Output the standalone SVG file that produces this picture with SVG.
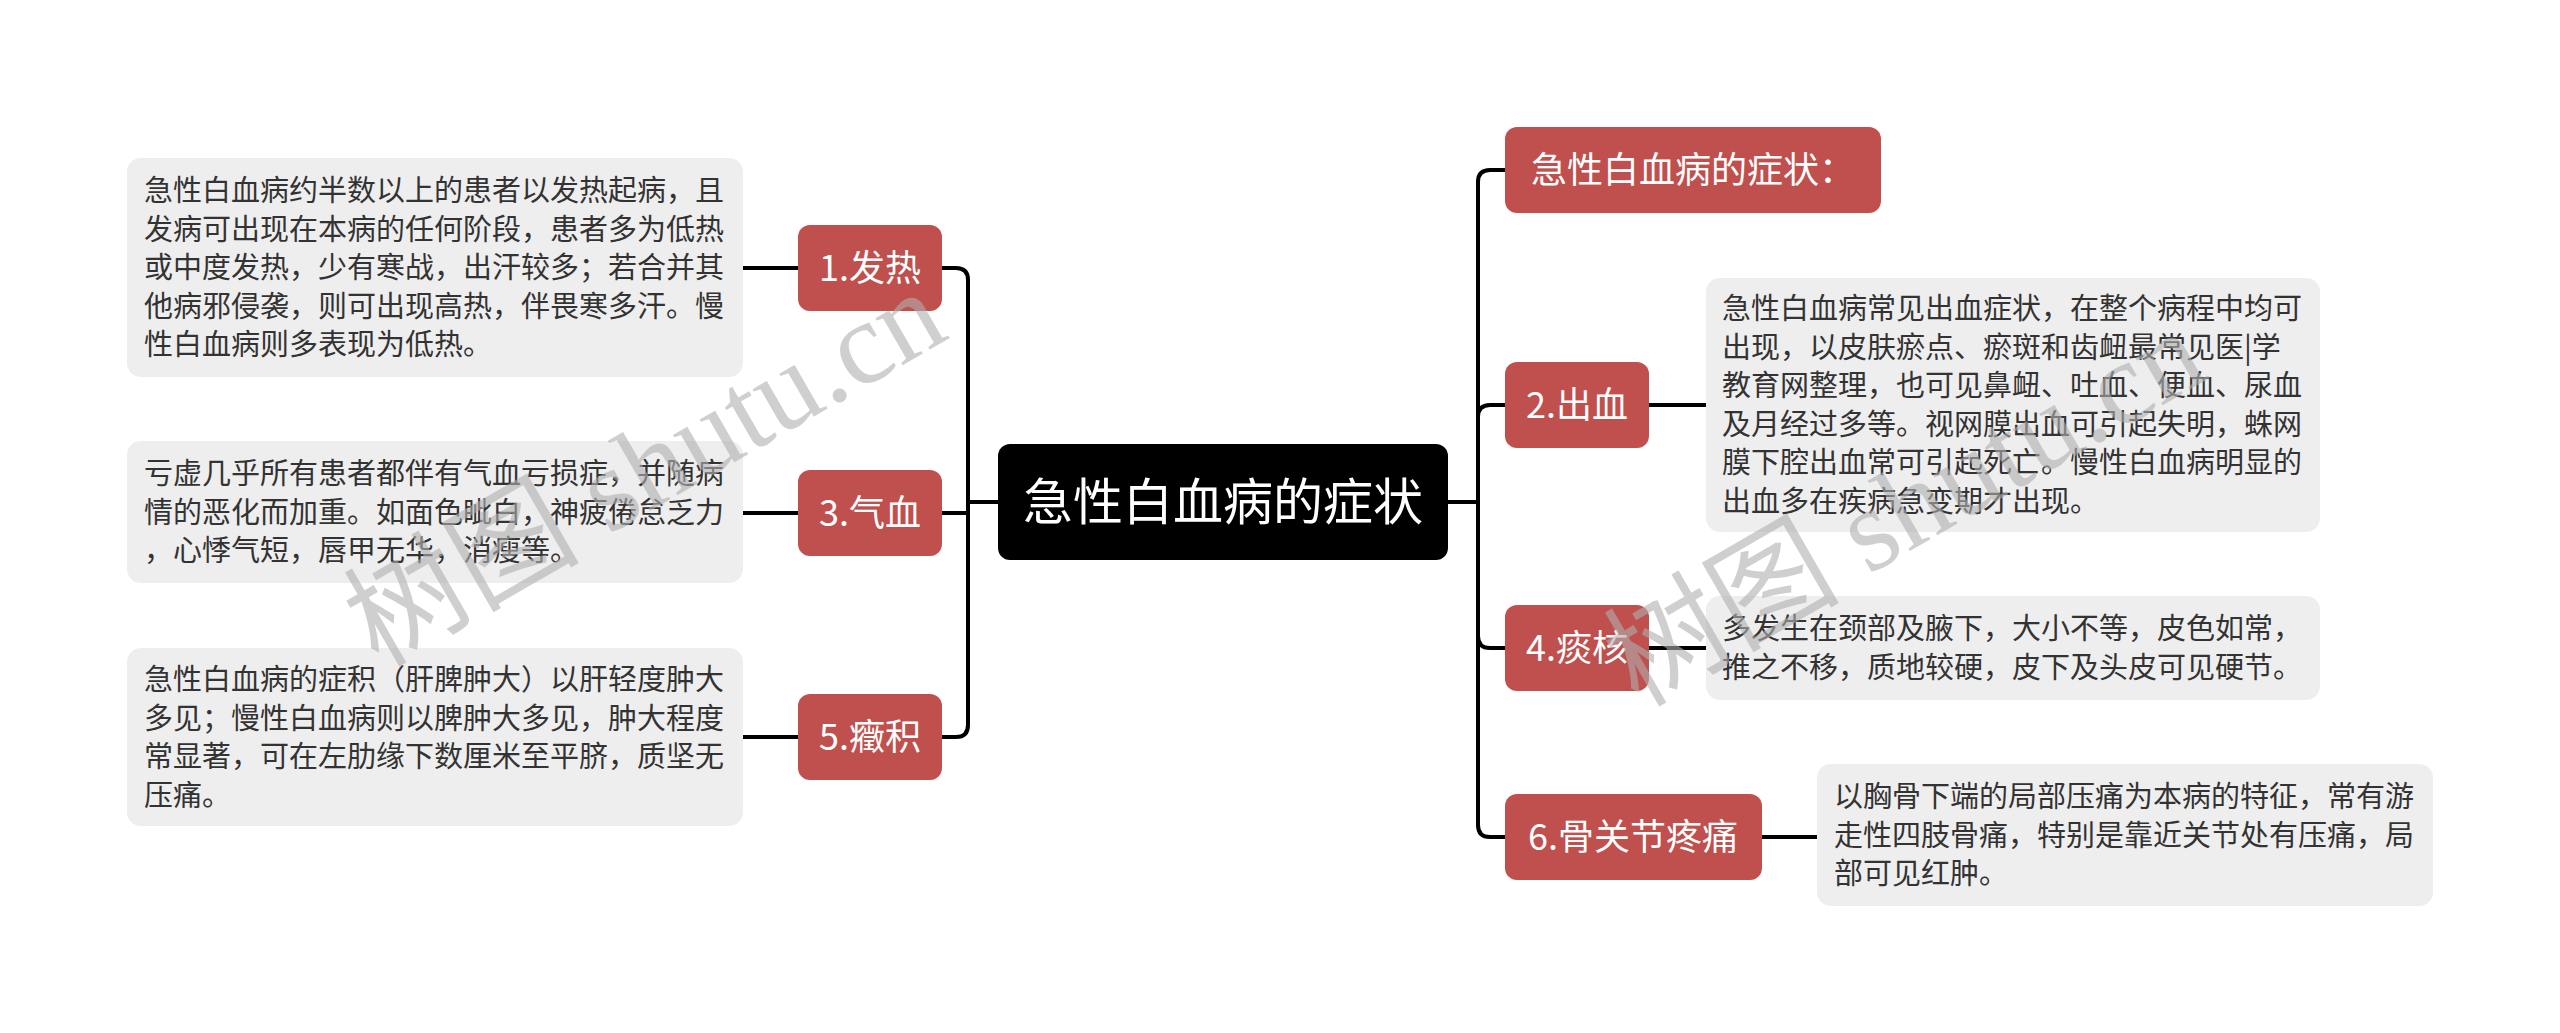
<svg xmlns="http://www.w3.org/2000/svg" width="2560" height="1033" viewBox="0 0 2560 1033">
<style>
.bg{fill:#ffffff}
.root rect{fill:#000000}
.root text{fill:#ffffff;font-size:50px;text-anchor:middle}
.topic rect{fill:#c0504d}
.topic text{fill:#ffffff;font-size:36px;text-anchor:middle}
.leaf rect{fill:#eeeeee}
.leaf text{fill:#333333;font-size:29px}
text{font-family:"Noto Sans CJK SC","Noto Sans",sans-serif}
.conn path{fill:none;stroke:#000000;stroke-width:4;stroke-linecap:round;stroke-linejoin:round}
.wm{fill:#b0b0b0;opacity:0.6;font-family:"Liberation Serif","Noto Sans CJK SC",serif;font-size:118px}
</style>
<rect class="bg" x="0" y="0" width="2560" height="1033"/>
<g id="connectors" class="conn">
<path d="M998 502 H968"/>
<path d="M968 502 V280 Q968 268 956 268 H942"/>
<path d="M968 502 V513 H942"/>
<path d="M968 502 V725 Q968 737 956 737 H942"/>
<path d="M798 268 H743"/>
<path d="M798 513 H743"/>
<path d="M798 737 H743"/>
<path d="M1448 502 H1478"/>
<path d="M1478 502 V182 Q1478 170 1490 170 H1505"/>
<path d="M1478 502 V417 Q1478 405 1490 405 H1505"/>
<path d="M1478 502 V636 Q1478 648 1490 648 H1505"/>
<path d="M1478 502 V825 Q1478 837 1490 837 H1505"/>
<path d="M1649 405 H1706"/>
<path d="M1649 648 H1706"/>
<path d="M1762 837 H1817"/>
</g>
<g id="root" class="root">
<rect x="998" y="444" width="450" height="116" rx="12"/>
<text x="1223" y="520">急性白血病的症状</text>
</g>
<g id="n1" class="topic">
<rect x="798" y="225" width="144" height="86" rx="12"/>
<text x="870" y="281">1.发热</text>
</g>
<g id="n3" class="topic">
<rect x="798" y="470" width="144" height="86" rx="12"/>
<text x="870" y="526">3.气血</text>
</g>
<g id="n5" class="topic">
<rect x="798" y="694" width="144" height="86" rx="12"/>
<text x="870" y="750">5.癥积</text>
</g>
<g id="n0" class="topic">
<rect x="1505" y="127" width="376" height="86" rx="12"/>
<text x="1693" y="183">急性白血病的症状：</text>
</g>
<g id="n2" class="topic">
<rect x="1505" y="362" width="144" height="86" rx="12"/>
<text x="1577" y="418">2.出血</text>
</g>
<g id="n4" class="topic">
<rect x="1505" y="605" width="144" height="86" rx="12"/>
<text x="1577" y="661">4.痰核</text>
</g>
<g id="n6" class="topic">
<rect x="1505" y="794" width="257" height="86" rx="12"/>
<text x="1633" y="850">6.骨关节疼痛</text>
</g>
<g id="t1" class="leaf">
<rect x="127" y="158" width="616" height="219" rx="14"/>
<text><tspan x="144" y="201">急性白血病约半数以上的患者以发热起病，且</tspan><tspan x="144" y="239.5">发病可出现在本病的任何阶段，患者多为低热</tspan><tspan x="144" y="278">或中度发热，少有寒战，出汗较多；若合并其</tspan><tspan x="144" y="316.5">他病邪侵袭，则可出现高热，伴畏寒多汗。慢</tspan><tspan x="144" y="355">性白血病则多表现为低热。</tspan></text>
</g>
<g id="t3" class="leaf">
<rect x="127" y="441" width="616" height="142" rx="14"/>
<text><tspan x="144" y="484">亏虚几乎所有患者都伴有气血亏损症，并随病</tspan><tspan x="144" y="522.5">情的恶化而加重。如面色眦白，神疲倦怠乏力</tspan><tspan x="144" y="561">，心悸气短，唇甲无华，消瘦等。</tspan></text>
</g>
<g id="t5" class="leaf">
<rect x="127" y="648" width="616" height="178" rx="14"/>
<text><tspan x="144" y="690">急性白血病的症积（肝脾肿大）以肝轻度肿大</tspan><tspan x="144" y="728.5">多见；慢性白血病则以脾肿大多见，肿大程度</tspan><tspan x="144" y="767">常显著，可在左肋缘下数厘米至平脐，质坚无</tspan><tspan x="144" y="805.5">压痛。</tspan></text>
</g>
<g id="t2" class="leaf">
<rect x="1706" y="278" width="614" height="254" rx="14"/>
<text><tspan x="1722" y="319">急性白血病常见出血症状，在整个病程中均可</tspan><tspan x="1722" y="357.5">出现，以皮肤瘀点、瘀斑和齿衄最常见医|学</tspan><tspan x="1722" y="396">教育网整理，也可见鼻衄、吐血、便血、尿血</tspan><tspan x="1722" y="434.5">及月经过多等。视网膜出血可引起失明，蛛网</tspan><tspan x="1722" y="473">膜下腔出血常可引起死亡。慢性白血病明显的</tspan><tspan x="1722" y="511.5">出血多在疾病急变期才出现。</tspan></text>
</g>
<g id="t4" class="leaf">
<rect x="1706" y="596" width="614" height="104" rx="14"/>
<text><tspan x="1722" y="639">多发生在颈部及腋下，大小不等，皮色如常，</tspan><tspan x="1722" y="677.5">推之不移，质地较硬，皮下及头皮可见硬节。</tspan></text>
</g>
<g id="t6" class="leaf">
<rect x="1817" y="764" width="616" height="142" rx="14"/>
<text><tspan x="1834" y="807">以胸骨下端的局部压痛为本病的特征，常有游</tspan><tspan x="1834" y="845.5">走性四肢骨痛，特别是靠近关节处有压痛，局</tspan><tspan x="1834" y="884">部可见红肿。</tspan></text>
</g>
<g id="watermark">
<text class="wm" transform="translate(378,668) rotate(-30)">树图 shutu.cn</text>
<text class="wm" transform="translate(1638,708) rotate(-30)">树图 shutu.cn</text>
</g>
</svg>
